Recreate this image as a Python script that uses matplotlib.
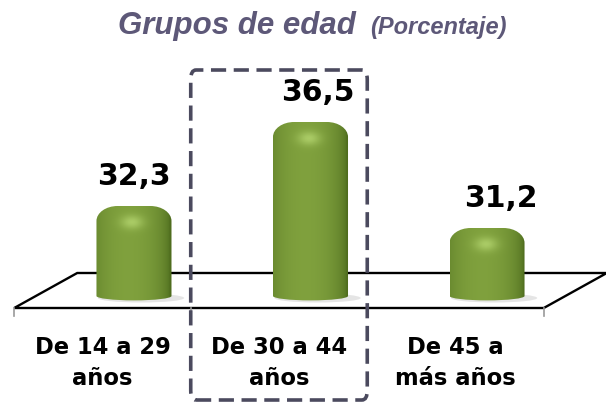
import numpy as np
import matplotlib.pyplot as plt
from matplotlib.path import Path
from matplotlib.patches import PathPatch, Polygon, FancyBboxPatch, Ellipse

# data
categories = ["De 14 a 29\naños", "De 30 a 44\naños", "De 45 a\nmás años"]
values = [32.3, 36.5, 31.2]
value_labels = ["32,3", "36,5", "31,2"]
highlight = 1  # category framed with the dashed box

base = 27.8
ylim = (22.35, 42.6)
xlim = (-0.759, 2.674)

fig = plt.figure(figsize=(6.06, 4.05), dpi=100)
ax = fig.add_axes([0, 0, 1, 1])
ax.set_xlim(*xlim)
ax.set_ylim(*ylim)
ax.axis('off')

# floor (3d look)
dx, dy = 0.357, 1.75
front_y = 27.2
n = len(categories)
fx0, fx1 = -0.5 - dx / 2, n - 0.5 - dx / 2
floor = Polygon([(fx0, front_y), (fx1, front_y), (fx1 + dx, front_y + dy), (fx0 + dx, front_y + dy)],
                closed=True, facecolor='white', edgecolor='black', lw=1.7, zorder=1)
ax.add_patch(floor)
for k in range(n + 1):
    xt = fx0 + k
    ax.plot([xt, xt], [front_y, front_y - 0.4], color='#999999', lw=1.2, zorder=1)


def cylinder_path(xc, top, w, bot):
    x0, x1 = xc - w / 2, xc + w / 2
    rh, rv = 0.12, 0.75
    eb = 0.22
    k = 0.5523
    verts = [(x0, bot), (x0, top - rv),
             (x0, top - rv + k * rv), (x0 + rh - k * rh, top), (x0 + rh, top),
             (x1 - rh, top),
             (x1 - rh + k * rh, top), (x1, top - rv + k * rv), (x1, top - rv),
             (x1, bot),
             (x1, bot - k * eb), (xc + k * w / 2, bot - eb), (xc, bot - eb),
             (xc - k * w / 2, bot - eb), (x0, bot - k * eb), (x0, bot),
             (x0, bot)]
    codes = [Path.MOVETO, Path.LINETO,
             Path.CURVE4, Path.CURVE4, Path.CURVE4,
             Path.LINETO,
             Path.CURVE4, Path.CURVE4, Path.CURVE4,
             Path.LINETO,
             Path.CURVE4, Path.CURVE4, Path.CURVE4,
             Path.CURVE4, Path.CURVE4, Path.CURVE4,
             Path.CLOSEPOLY]
    return Path(verts, codes)


dark = np.array([0.31, 0.43, 0.12])
light = np.array([0.50, 0.63, 0.24])
spot = np.array([0.72, 0.85, 0.45])
w = 0.425

for i, v in enumerate(values):
    bot = base
    # soft shadow
    ax.add_patch(Ellipse((i + 0.04, bot - 0.1), w * 1.15, 0.45, facecolor='#cccccc', alpha=0.5,
                         edgecolor='none', zorder=2))
    path = cylinder_path(i, v, w, bot)
    patch = PathPatch(path, facecolor='none', edgecolor='none', zorder=3)
    ax.add_patch(patch)
    nx, ny = 120, 300
    t = np.linspace(-1, 1, nx)
    yy = np.linspace(0, 1, ny)[:, None]  # 0 at top
    f = np.clip(1 - ((t + 0.15) / 1.1) ** 2, 0, 1) ** 0.6
    img = dark + (light - dark) * f[None, :, None]
    img = np.repeat(img, ny, axis=0)
    h = v - bot
    ypix = yy * (h + 0.3)
    g = np.exp(-((t[None, :] + 0.05) / 0.3) ** 2 - ((ypix - 0.8) / 0.35) ** 2)
    img = img + (spot - img) * (0.75 * g)[:, :, None]
    im = ax.imshow(np.clip(img, 0, 1), extent=[i - w / 2, i + w / 2, bot - 0.3, v],
                   aspect='auto', zorder=3, interpolation='bilinear')
    im.set_clip_path(patch)
    ax.text(i + 0.04 * i, v + 1.45, value_labels[i], ha='center', va='center',
            fontsize=21.5, fontweight='bold', color='black', zorder=5)

for i, c in enumerate(categories):
    ax.text(i - dx / 2, 24.45, c, ha='center', va='center', fontsize=16.3, fontweight='bold',
            color='black', linespacing=1.42, zorder=5)

# dashed frame around highlighted category
bx0 = highlight - 0.5 - dx / 2
box = FancyBboxPatch((bx0, 22.6), 1.0, 16.5, boxstyle='round,pad=0,rounding_size=0.03',
                     facecolor='none', edgecolor='#4b4a5e', lw=2.6, linestyle=(0, (4.2, 2.1)),
                     zorder=6, mutation_aspect=16)
ax.add_patch(box)

# title
fig.text(118 / 606, 1 - 34 / 405, "Grupos de edad", ha='left', va='baseline', fontsize=22.5,
         fontweight='bold', fontstyle='italic', color='#5d5878', family='Liberation Sans')
fig.text(370 / 606, 1 - 34 / 405, "(Porcentaje)", ha='left', va='baseline', fontsize=17,
         fontweight='bold', fontstyle='italic', color='#5d5878', family='Liberation Sans')

fig.savefig('out.png', dpi=100)
